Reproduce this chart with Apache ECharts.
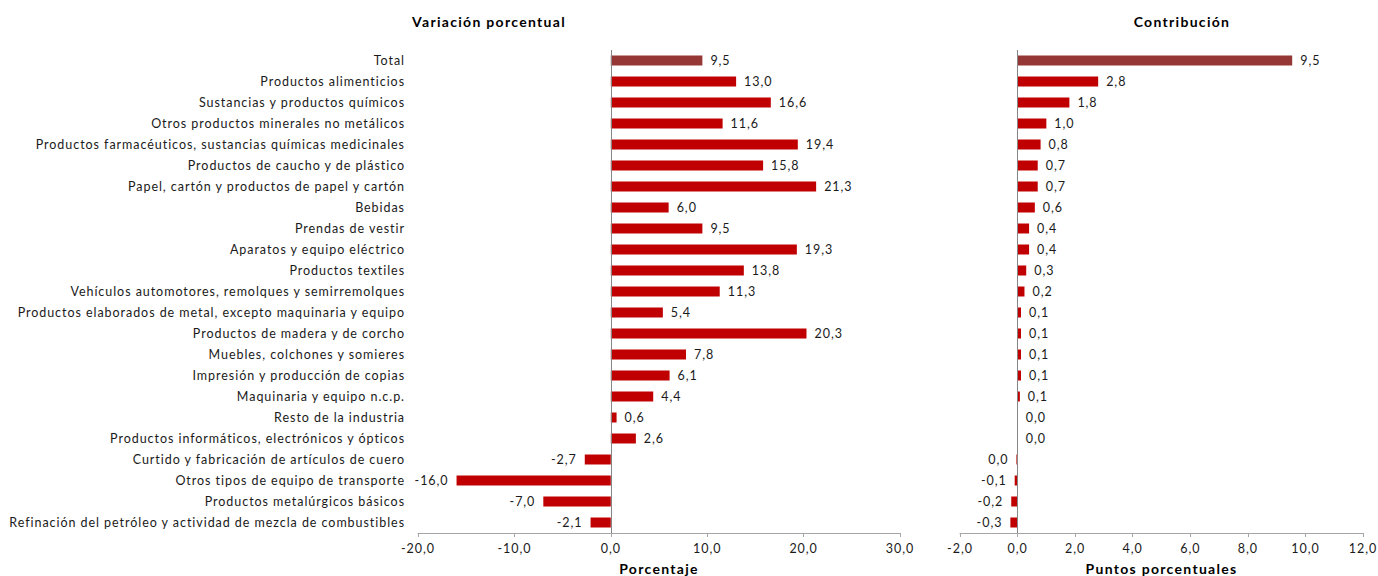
<!DOCTYPE html>
<html>
<head>
<meta charset="utf-8">
<script src="https://cdn.jsdelivr.net/npm/echarts@6/dist/echarts.min.js"></script>
<style>
html,body{margin:0;padding:0;background:#fff;}
#main{width:1378px;height:576px;}
#main svg text{letter-spacing:0.95px;}
#main svg text[style*="bold"]{letter-spacing:1.3px;}
</style>
</head>
<body>
<div id="main"></div>
<script>
const categories = [
  "Total",
  "Productos alimenticios",
  "Sustancias y productos químicos",
  "Otros productos minerales no metálicos",
  "Productos farmacéuticos, sustancias químicas medicinales",
  "Productos de caucho y de plástico",
  "Papel, cartón y productos de papel y cartón",
  "Bebidas",
  "Prendas de vestir",
  "Aparatos y equipo eléctrico",
  "Productos textiles",
  "Vehículos automotores, remolques y semirremolques",
  "Productos elaborados de metal, excepto maquinaria y equipo",
  "Productos de madera y de corcho",
  "Muebles, colchones y somieres",
  "Impresión y producción de copias",
  "Maquinaria y equipo n.c.p.",
  "Resto de la industria",
  "Productos informáticos, electrónicos y ópticos",
  "Curtido y fabricación de artículos de cuero",
  "Otros tipos de equipo de transporte",
  "Productos metalúrgicos básicos",
  "Refinación del petróleo y actividad de mezcla de combustibles"
];
const variacion = [9.5, 13.0, 16.6, 11.6, 19.4, 15.8, 21.3, 6.0, 9.5, 19.3, 13.8, 11.3, 5.4, 20.3, 7.8, 6.1, 4.4, 0.6, 2.6, -2.7, -16.0, -7.0, -2.1];
const contribucion = [9.54, 2.8, 1.8, 1.0, 0.8, 0.7, 0.7, 0.6, 0.4, 0.4, 0.3, 0.24, 0.12, 0.12, 0.12, 0.12, 0.08, 0.01, 0.01, -0.04, -0.1, -0.22, -0.25];
const leftTicks = {min: -20, max: 30, interval: 10};
const rightTicks = {min: -2, max: 12, interval: 2};

const FONT = "Lato";
const fmt = v => (Math.abs(v) < 0.05 ? "0,0" : v.toFixed(1).replace('.', ','));
const TOTAL_COLOR = '#953735';
const BAR_COLOR = '#C00000';
const TEXT = '#1a1a1a';

function mkData(arr) {
  return arr.map((v, i) => ({
    value: v,
    itemStyle: {color: i === 0 ? TOTAL_COLOR : BAR_COLOR},
    label: {position: v < 0 ? 'left' : 'right'}
  }));
}
const valAxisBase = {
  type: 'value',
  nameLocation: 'middle',
  nameGap: 28,
  nameTextStyle: {fontFamily: FONT, fontWeight: 'bold', fontSize: 14, color: '#000'},
  axisLine: {show: true, onZero: false, lineStyle: {color: '#A6A6A6', width: 1}},
  axisTick: {show: true, length: 4, lineStyle: {color: '#A6A6A6'}},
  axisLabel: {fontFamily: FONT, fontSize: 12.5, color: TEXT, margin: 9, formatter: v => fmt(v)},
  splitLine: {show: false}
};
const catAxisBase = {
  type: 'category',
  data: categories,
  inverse: true,
  axisLine: {show: false},
  axisTick: {show: false},
  splitLine: {show: false}
};
const zeroLine = {
  silent: true,
  symbol: 'none',
  label: {show: false},
  lineStyle: {color: '#868686', width: 1, type: 'solid'},
  data: [{xAxis: 0}]
};
const labelBase = {
  show: true,
  fontFamily: FONT,
  fontSize: 12.5,
  color: TEXT,
  distance: 8,
  formatter: p => fmt(p.value)
};

const chart = echarts.init(document.getElementById('main'), null, {renderer: 'svg'});
chart.setOption({
  animation: false,
  backgroundColor: '#fff',
  title: [
    {text: 'Variación porcentual', left: 484, top: 9, textAlign: 'center',
     textStyle: {fontFamily: FONT, fontWeight: 'bold', fontSize: 14, color: '#000'}},
    {text: 'Contribución', left: 1177, top: 9, textAlign: 'center',
     textStyle: {fontFamily: FONT, fontWeight: 'bold', fontSize: 14, color: '#000'}}
  ],
  grid: [
    {left: 418, right: 478, top: 50, bottom: 43, containLabel: false, outerBoundsMode: 'none'},
    {left: 960, right: 15, top: 50, bottom: 43, containLabel: false, outerBoundsMode: 'none'}
  ],
  xAxis: [
    Object.assign({}, valAxisBase, {gridIndex: 0, name: 'Porcentaje'}, leftTicks),
    Object.assign({}, valAxisBase, {gridIndex: 1, name: 'Puntos porcentuales'}, rightTicks)
  ],
  yAxis: [
    Object.assign({}, catAxisBase, {gridIndex: 0,
      axisLabel: {fontFamily: FONT, fontSize: 12.5, color: TEXT, margin: 13}}),
    Object.assign({}, catAxisBase, {gridIndex: 1, axisLabel: {show: false}})
  ],
  series: [
    {type: 'bar', xAxisIndex: 0, yAxisIndex: 0, barWidth: 10, data: mkData(variacion),
     label: labelBase, markLine: zeroLine},
    {type: 'bar', xAxisIndex: 1, yAxisIndex: 1, barWidth: 10, data: mkData(contribucion),
     label: labelBase, markLine: zeroLine}
  ]
});
</script>
</body>
</html>
